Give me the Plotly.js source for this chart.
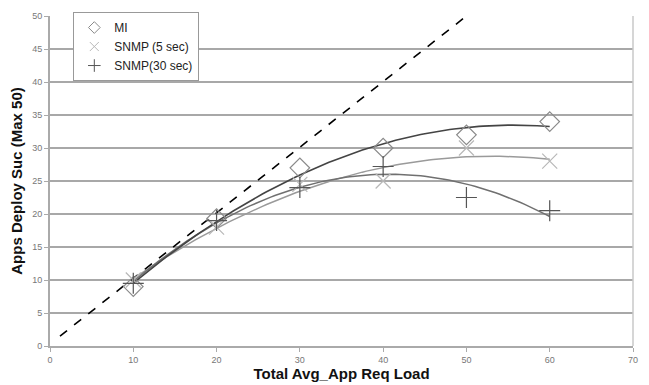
<!DOCTYPE html>
<html><head><meta charset="utf-8">
<script src="https://cdn.plot.ly/plotly-3.0.1.min.js"></script>
<style>body{margin:0;background:#fff}#c{width:649px;height:385px}</style>
</head><body><div id="c"></div>
<script>
const loads = [10, 20, 30, 40, 50, 60];
const mi = [9, 19.3, 27, 30, 32, 34];
const snmp5 = [10, 18, 24.5, 25, 30, 28];
const snmp30 = [9.5, 19, 24, 27.2, 22.5, 20.5];
const idealX = [1.2, 50];
const idealY = [1.5, 50];
const xTicks = [0, 10, 20, 30, 40, 50, 60, 70];
const yTicks = [0, 5, 10, 15, 20, 25, 30, 35, 40, 45, 50];
const names = ['MI', 'SNMP (5 sec)', 'SNMP(30 sec)'];

// Excel-style 2nd order polynomial trendline (least squares)
function polyFit2(xs, ys) {
  let S = [0,0,0,0,0], T = [0,0,0];
  xs.forEach((x, i) => { for (let k=0;k<5;k++) S[k]+=Math.pow(x,k); for (let k=0;k<3;k++) T[k]+=ys[i]*Math.pow(x,k); });
  const A = [[S[0],S[1],S[2],T[0]],[S[1],S[2],S[3],T[1]],[S[2],S[3],S[4],T[2]]];
  for (let i=0;i<3;i++){ for (let j=i+1;j<3;j++){ const f=A[j][i]/A[i][i]; for(let k=i;k<4;k++) A[j][k]-=f*A[i][k]; } }
  const c=[0,0,0];
  for (let i=2;i>=0;i--){ let s=A[i][3]; for(let k=i+1;k<3;k++) s-=A[i][k]*c[k]; c[i]=s/A[i][i]; }
  return c;
}
function trend(ys) {
  const c = polyFit2(loads, ys), tx=[], ty=[];
  for (let x = loads[0]; x <= loads[loads.length-1] + 1e-9; x += 0.5) { tx.push(x); ty.push(c[0]+c[1]*x+c[2]*x*x); }
  return {x: tx, y: ty};
}
const tMI = trend(mi), t5 = trend(snmp5), t30 = trend(snmp30);

const styles = [
  {symbol: 'diamond-open', color: '#8a8a8a'},
  {symbol: 'x-thin-open', color: '#b8b8b8'},
  {symbol: 'cross-thin-open', color: '#555'}
];
const series = [mi, snmp5, snmp30];

const data = [
  {x: idealX, y: idealY, mode: 'lines', line: {color: '#000', width: 1.6, dash: 'dash'}, showlegend: false, hoverinfo: 'skip'},
  {x: t5.x, y: t5.y, mode: 'lines', line: {color: '#9a9a9a', width: 1.5}, showlegend: false},
  {x: t30.x, y: t30.y, mode: 'lines', line: {color: '#707070', width: 1.5}, showlegend: false},
  {x: tMI.x, y: tMI.y, mode: 'lines', line: {color: '#444', width: 1.6}, showlegend: false}
];
series.forEach((s, i) => {
  data.push({x: loads, y: s, name: names[i], mode: 'markers', showlegend: false,
    marker: {symbol: styles[i].symbol, size: i === 0 ? 15 : 15, color: styles[i].color, line: {width: 1.2, color: styles[i].color}}});
});
// legend entries with small symbols, as in the original
series.forEach((s, i) => {
  data.push({x: [null], y: [null], name: names[i], mode: 'markers', showlegend: true,
    marker: {symbol: styles[i].symbol, size: 9, color: styles[i].color, line: {width: 1, color: styles[i].color}}});
});

const tickFont = {family: '"Liberation Sans Narrow", "Liberation Sans", Arial, sans-serif', size: 9, color: '#777'};
const layout = {
  width: 649, height: 385,
  margin: {l: 50, r: 16, t: 14, b: 39},
  paper_bgcolor: '#fff', plot_bgcolor: '#fff',
  showlegend: true,
  legend: {x: 0.04, y: 1.012, xanchor: 'left', yanchor: 'top', bgcolor: '#fff', bordercolor: '#999', borderwidth: 1,
    font: {family: '"Liberation Sans", Arial, sans-serif', size: 12, color: '#222'}, tracegroupgap: 0, itemwidth: 30},
  xaxis: {range: [0, 70], tickvals: xTicks, ticktext: xTicks.map(String), tickfont: tickFont,
    showgrid: false, zeroline: false, showline: true, linecolor: '#aaa', linewidth: 2, mirror: false,
    ticks: 'outside', ticklen: 4, tickcolor: '#aaa', tickwidth: 1,
    title: {text: 'Total Avg_App Req Load', font: {family: '"Liberation Sans", Arial, sans-serif', size: 15, color: '#111', weight: 'bold'}, standoff: 5}},
  yaxis: {range: [0, 50], tickvals: yTicks, ticktext: yTicks.map(String), tickfont: tickFont,
    showgrid: true, gridcolor: '#a8a8a8', gridwidth: 2, zeroline: false, showline: true, linecolor: '#aaa', linewidth: 2,
    ticks: 'outside', ticklen: 4, tickcolor: '#aaa', tickwidth: 1,
    title: {text: 'Apps Deploy Suc (Max 50)', font: {family: '"Liberation Sans", Arial, sans-serif', size: 15, color: '#111', weight: 'bold'}, standoff: 6}},
  shapes: [{type: 'line', xref: 'paper', yref: 'paper', x0: 1, x1: 1, y0: 0, y1: 1, line: {color: '#c8c8c8', width: 1.5}}]
};
Plotly.newPlot('c', data, layout, {displayModeBar: false, staticPlot: true});
</script></body></html>
